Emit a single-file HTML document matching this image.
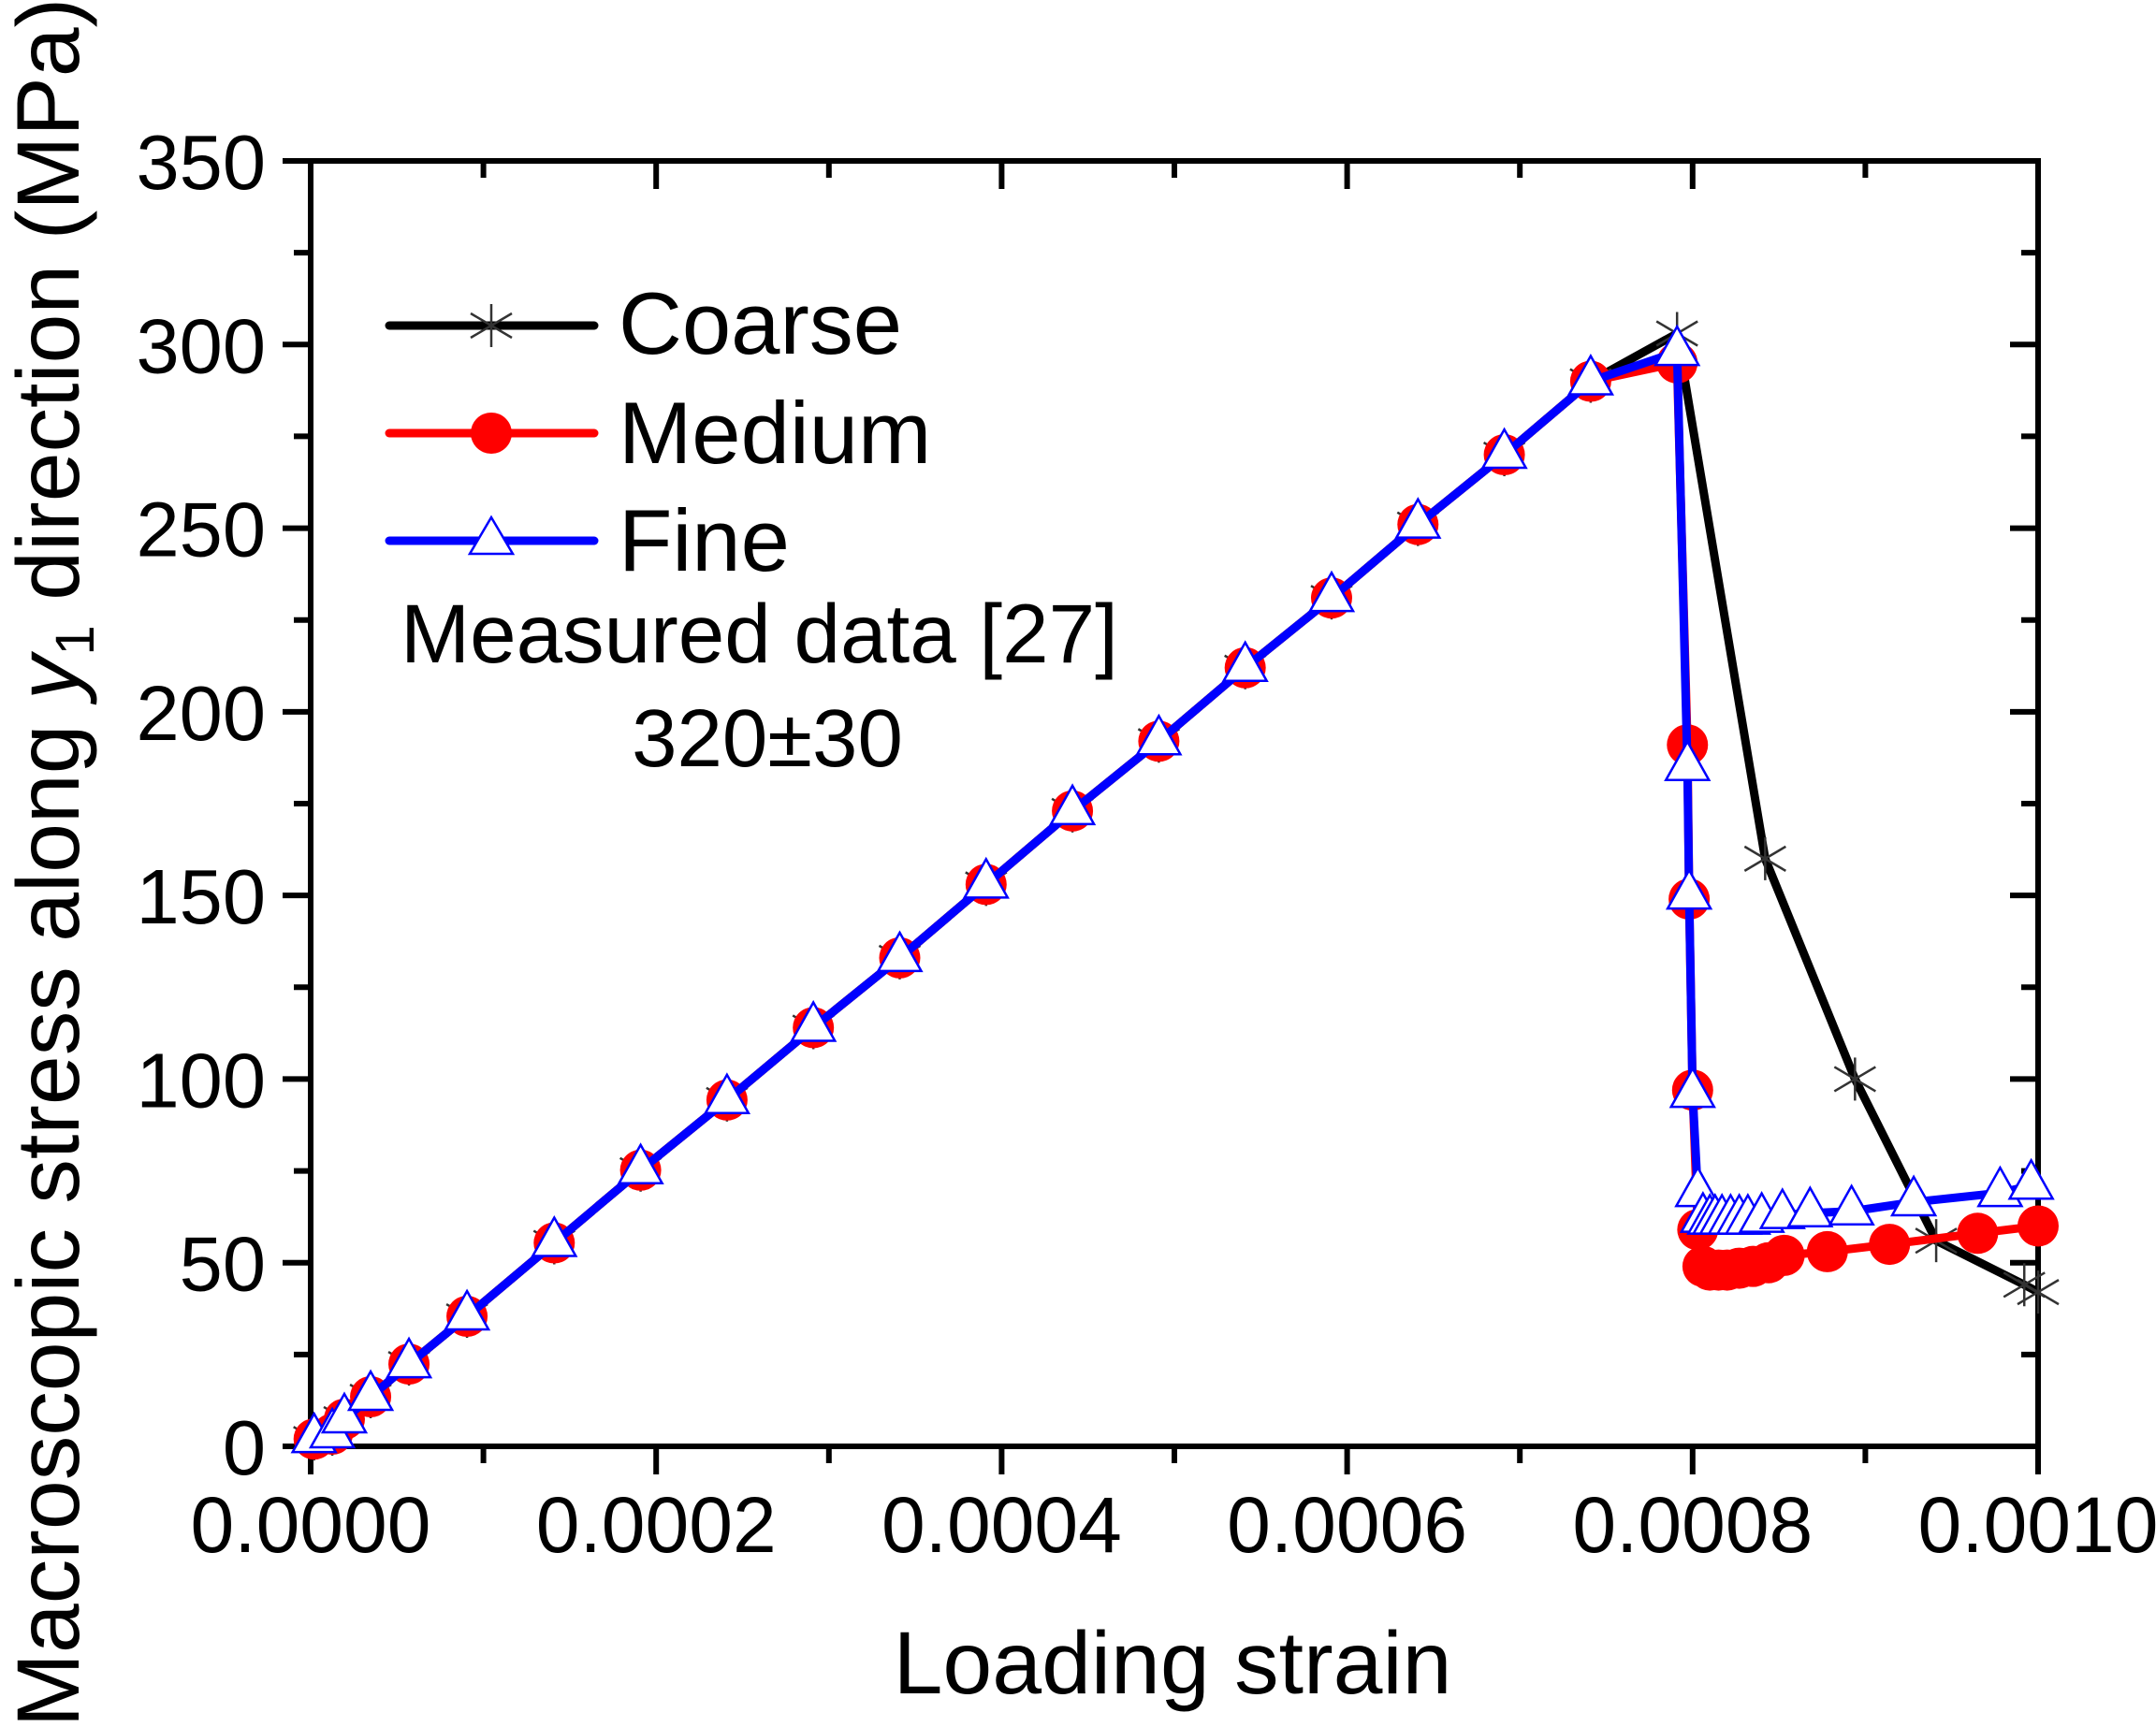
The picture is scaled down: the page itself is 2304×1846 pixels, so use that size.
<!DOCTYPE html>
<html><head><meta charset="utf-8">
<style>
html,body{margin:0;padding:0;background:#fff;}
svg{display:block;font-family:"Liberation Sans",Arial,sans-serif;}
</style></head>
<body>
<svg id="chart" width="2304" height="1846" viewBox="0 0 2304 1846" xmlns="http://www.w3.org/2000/svg">
<g id="axes"></g>
<g id="series"></g>
<g id="legend">
  <line x1="416" y1="348" x2="635" y2="348" stroke="#000" stroke-width="9" stroke-linecap="round"/>
  <g stroke="#333" stroke-width="2.5">
    <line x1="525" y1="325" x2="525" y2="371"/><line x1="503" y1="335" x2="547" y2="361"/><line x1="503" y1="361" x2="547" y2="335"/>
  </g>
  <text x="661" y="378" font-size="94">Coarse</text>
  <line x1="416" y1="463" x2="635" y2="463" stroke="#f00" stroke-width="9" stroke-linecap="round"/>
  <circle cx="525" cy="463" r="22" fill="#f00"/>
  <text x="661" y="495" font-size="94">Medium</text>
  <line x1="416" y1="578" x2="635" y2="578" stroke="#00f" stroke-width="9" stroke-linecap="round"/>
  <polygon points="525,553 548,592 502,592" fill="#fff" stroke="#00f" stroke-width="2.5"/>
  <text x="661" y="610" font-size="94">Fine</text>
  <text x="428" y="708" font-size="89">Measured data [27]</text>
  <text x="820" y="819" font-size="87" text-anchor="middle">320±30</text>
</g>
<text x="1253" y="1810" font-size="95" text-anchor="middle">Loading strain</text>
<text transform="translate(84,922) rotate(-90)" font-size="95" text-anchor="middle">Macroscopic stress along <tspan font-style="italic">y</tspan><tspan font-size="58" dy="16">1</tspan><tspan dy="-16"> direction (MPa)</tspan></text>
</svg>
<script>
const xTicks = [0, 0.0002, 0.0004, 0.0006, 0.0008, 0.001];
const xTickLabels = ["0.0000","0.0002","0.0004","0.0006","0.0008","0.0010"];
const yTicks = [0, 50, 100, 150, 200, 250, 300, 350];
const yTickLabels = ["0","50","100","150","200","250","300","350"];
const linStrain = [0.000002,0.0000125,0.0000195,0.0000347,0.0000569,0.0000905,0.000141,0.000191,0.000241,0.000291,0.000341,0.000391,0.000441,0.000491,0.000541,0.000591,0.000641,0.000691,0.000741];
const linStress = [2,3.3,7.4,13.5,22.4,35.4,55.4,75.2,94.3,114,133,153,173,192,212,231,251,270,290];
const coarseStrain = [0.000791,0.000842,0.000894,0.000941,0.000992,0.001];
const coarseStress = [303,160,100,56,44,42];
const mediumStrain = [0.000791,0.000797,0.000798,0.000800,0.000803,0.000806,0.00081,0.000815,0.00082,0.000827,0.000835,0.000844,0.000853,0.000878,0.000914,0.000965,0.001];
const mediumStress = [295,191,149,97,59,49,48,48,48,48.5,49,50,52,53,55,58,60];
const fineStrain = [0.000791,0.000797,0.000798,0.000800,0.000803,0.000806,0.00081,0.000813,0.000817,0.000822,0.000827,0.000832,0.00084,0.000852,0.000868,0.000892,0.000928,0.000978,0.000996];
const fineStress = [298,185,150,96,69,62,61.5,61.5,61.5,61.5,61.5,61.5,62,63,63.5,64,66.5,69,71];

const NS="http://www.w3.org/2000/svg";
const L=332,R=2178,T=172,B=1546;
const sx=v=>L+(v/0.001)*(R-L);
const sy=v=>B-(v/350)*(B-T);
function mk(tag,attrs,parent){const e=document.createElementNS(NS,tag);for(const k in attrs)e.setAttribute(k,attrs[k]);parent.appendChild(e);return e;}
const axes=document.getElementById('axes');
const ser=document.getElementById('series');

for(let i=0;i<=10;i++){const v=i*0.0001;const x=sx(v);const major=i%2===0;
 const t=mk('line',{x1:x,y1:B,x2:x,y2:B+(major?30:18),stroke:'#000','stroke-width':6},axes);
 
 
 const t2=mk('line',{x1:x,y1:T,x2:x,y2:T+(major?30:18),stroke:'#000','stroke-width':6},axes);
 
 }
for(let i=0;i<=14;i++){const v=i*25;const y=sy(v);const major=i%2===0;
 const t=mk('line',{x1:L-(major?30:18),y1:y,x2:L,y2:y,stroke:'#000','stroke-width':6},axes);
 
 
 const t2=mk('line',{x1:R-(major?30:18),y1:y,x2:R,y2:y,stroke:'#000','stroke-width':6},axes);
 
 }
const frame=mk('rect',{x:L,y:T,width:R-L,height:B-T,fill:'none',stroke:'#000','stroke-width':6},axes);


xTicks.forEach((v,i)=>{const t=mk('text',{x:sx(v),y:1659,'font-size':84,'text-anchor':'middle'},axes);t.textContent=xTickLabels[i];
 
 });
yTicks.forEach((v,i)=>{const t=mk('text',{x:284,y:sy(v)+30,'font-size':83,'text-anchor':'end'},axes);t.textContent=yTickLabels[i];
 
 });

function pts(xs,ys){return xs.map((x,i)=>sx(x)+','+sy(ys[i])).join(' ');}
const cS=linStrain.concat(coarseStrain), cY=linStress.concat(coarseStress);
const mS=linStrain.concat(mediumStrain), mY=linStress.concat(mediumStress);
const fS=linStrain.concat(fineStrain), fY=linStress.concat(fineStress);

const cl=mk('polyline',{points:pts(cS,cY),fill:'none',stroke:'#000','stroke-width':9,'stroke-linejoin':'round'},ser);


cS.forEach((x,i)=>{const X=sx(x),Y=sy(cY[i]);const g=mk('g',{stroke:'#333','stroke-width':2.5},ser);
 
 
 mk('line',{x1:X,y1:Y-23,x2:X,y2:Y+23},g);mk('line',{x1:X-22,y1:Y-13,x2:X+22,y2:Y+13},g);mk('line',{x1:X-22,y1:Y+13,x2:X+22,y2:Y-13},g);});
const ml=mk('polyline',{points:pts(mS,mY),fill:'none',stroke:'#f00','stroke-width':9,'stroke-linejoin':'round'},ser);


mS.forEach((x,i)=>{const c=mk('circle',{cx:sx(x),cy:sy(mY[i]),r:22,fill:'#f00'},ser);
 
 });
const fl=mk('polyline',{points:pts(fS,fY),fill:'none',stroke:'#00f','stroke-width':9,'stroke-linejoin':'round'},ser);


fS.forEach((x,i)=>{const X=sx(x),Y=sy(fY[i]);const p=mk('polygon',{points:`${X},${Y-27} ${X+23},${Y+14} ${X-23},${Y+14}`,fill:'#fff',stroke:'#00f','stroke-width':2.5},ser);
 
 });
</script>
</body></html>
